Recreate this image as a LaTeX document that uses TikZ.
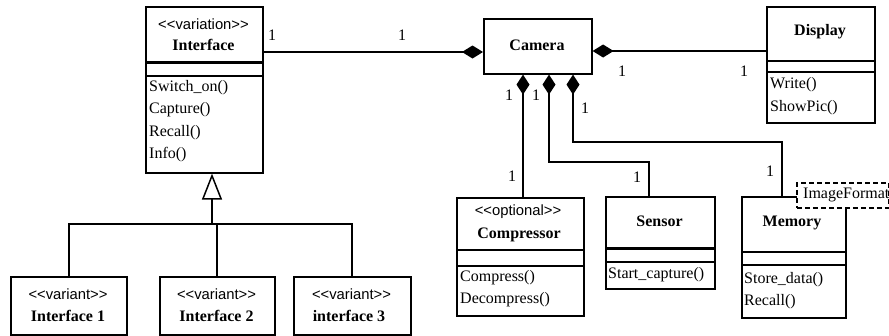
\documentclass[tikz,border=0pt]{standalone}
\usepackage{fontspec}
\setmainfont{Liberation Serif}
\newfontfamily\stereofont{Liberation Sans}
\usetikzlibrary{arrows.meta}
\begin{document}
\begin{tikzpicture}[x=1pt,y=-1pt,
  box/.style={draw, line width=1.6pt, fill=white, inner sep=0pt, anchor=north west},
  sep/.style={line width=1.4pt},
  thicksep/.style={line width=3pt},
  conn/.style={line width=1.5pt},
  lbl/.style={font=\fontsize{16}{18}\selectfont, inner sep=0pt},
  cls/.style={font=\fontsize{16}{18}\selectfont\bfseries, inner sep=0pt},
  stereo/.style={font=\fontsize{14.8}{16}\stereofont, inner sep=0pt},
  meth/.style={font=\fontsize{16}{18}\selectfont, inner sep=0pt, anchor=west},
  comp/.style={conn, {Diamond[length=21pt,width=13pt]}-},
  vcomp/.style={conn, {Diamond[length=20pt,width=13pt]}-},
]
\useasboundingbox[fill=white] (0,0) rectangle (889,335);

% ---------- Interface ----------
\node[box, minimum width=117pt, minimum height=166pt] (iface) at (145,6) {};
\draw[thicksep] (iface.west |- 0,62) -- (iface.east |- 0,62);
\draw[sep] (iface.west |- 0,76) -- (iface.east |- 0,76);
\node[stereo] (ifaceS) at (203.5,24) {<<variation>>};
\node[cls] (ifaceN) at (203.5,45) {Interface};
\node[meth] (ifm1) at (149,88) {Switch\_on()};
\node[meth] (ifm2) at (149,110) {Capture()};
\node[meth] (ifm3) at (149,133) {Recall()};
\node[meth] (ifm4) at (149,155) {Info()};

% ---------- Camera ----------
\node[box, minimum width=108pt, minimum height=55pt] (camera) at (483,18) {};
\node[cls] (cameraN) at (537,45) {Camera};

% ---------- Display ----------
\node[box, minimum width=108pt, minimum height=116pt] (display) at (766,6) {};
\draw[sep] (display.west |- 0,61) -- (display.east |- 0,61);
\draw[sep] (display.west |- 0,72) -- (display.east |- 0,72);
\node[cls] (displayN) at (820,32) {Display};
\node[meth] (dm1) at (770,85) {Write()};
\node[meth] (dm2) at (770,108) {ShowPic()};

% ---------- Compressor ----------
\node[box, minimum width=127pt, minimum height=118pt] (compr) at (456,197) {};
\draw[sep] (compr.west |- 0,250) -- (compr.east |- 0,250);
\draw[sep] (compr.west |- 0,266) -- (compr.east |- 0,266);
\node[stereo] (comprS) at (518,212) {<<optional>>};
\node[cls] (comprN) at (519,235) {Compressor};
\node[meth] (cm1) at (460,278) {Compress()};
\node[meth] (cm2) at (460,300) {Decompress()};

% ---------- Sensor ----------
\node[box, minimum width=109pt, minimum height=92pt] (sensor) at (605,196) {};
\draw[thicksep] (sensor.west |- 0,248) -- (sensor.east |- 0,248);
\draw[sep] (sensor.west |- 0,262) -- (sensor.east |- 0,262);
\node[cls] (sensorN) at (659.5,221) {Sensor};
\node[meth] (sm1) at (608,275) {Start\_capture()};

% ---------- Memory ----------
\node[box, minimum width=104pt, minimum height=121pt] (memory) at (741,196) {};
\draw[sep] (memory.west |- 0,252) -- (memory.east |- 0,252);
\draw[sep] (memory.west |- 0,265) -- (memory.east |- 0,265);
\node[cls] (memoryN) at (792,223) {Memory};
\node[meth] (mm1) at (744,280) {Store\_data()};
\node[meth] (mm2) at (744,302) {Recall()};

% ImageFormat (dashed, clipped text)
\node[draw, dash pattern=on 5pt off 3pt, line width=1.6pt, fill=white, inner sep=0pt, anchor=north west,
      minimum width=92pt, minimum height=25pt] (imgfmt) at (796,182) {};
\begin{scope}
  \clip (imgfmt.north west) rectangle ([xshift=-1pt]imgfmt.south east);
  \node[meth] (imgfmtT) at (803,195) {ImageFormat};
\end{scope}

% ---------- Variants ----------
\node[box, minimum width=116pt, minimum height=58pt] (v1) at (10,276) {};
\node[box, minimum width=115pt, minimum height=58pt] (v2) at (159,276) {};
\node[box, minimum width=117pt, minimum height=58pt] (v3) at (293,276) {};
\node[stereo] (v1S) at (68,294) {<<variant>>};
\node[cls] (v1N) at (68,316) {Interface 1};
\node[stereo] (v2S) at (216.5,294) {<<variant>>};
\node[cls] (v2N) at (216.5,316) {Interface 2};
\node[stereo] (v3S) at (351.5,294) {<<variant>>};
\node[cls] (v3N) at (349,316) {interface 3};

% ---------- Connectors ----------
\coordinate (inhJ) at (212,224);
\draw[conn, -{Triangle[open, length=26pt, width=20pt]}] (inhJ) -- (iface.south -| inhJ);
\draw[conn] (v1.north -| 69,0) -- (69,224) -- (352,224) -- (v3.north -| 352,0);
\draw[conn] (v2.north -| 217,0) -- (217,224);

\draw[conn, -{Diamond[length=21pt,width=13pt]}] (iface.east |- 0,52) -- (camera.west |- 0,52);
\draw[comp] (camera.east |- 0,51) -- (display.west |- 0,51);
\draw[vcomp] (camera.south -| 523,0) -- (compr.north -| 523,0);
\draw[vcomp] (camera.south -| 549,0) -- (549,162) -- (649,162) -- (sensor.north -| 649,0);
\draw[vcomp] (camera.south -| 573,0) -- (573,142) -- (782,142) -- (memory.north -| 782,0);

% ---------- Multiplicities ----------
\node[lbl] (m1) at (272,35) {1};
\node[lbl] (m2) at (402,35) {1};
\node[lbl] (m3) at (622,71) {1};
\node[lbl] (m4) at (744,71) {1};
\node[lbl] (m5) at (509,95) {1};
\node[lbl] (m6) at (536,95) {1};
\node[lbl] (m7) at (585,108) {1};
\node[lbl] (m8) at (512,176) {1};
\node[lbl] (m9) at (637,177) {1};
\node[lbl] (m10) at (770,171) {1};
\end{tikzpicture}
\end{document}
